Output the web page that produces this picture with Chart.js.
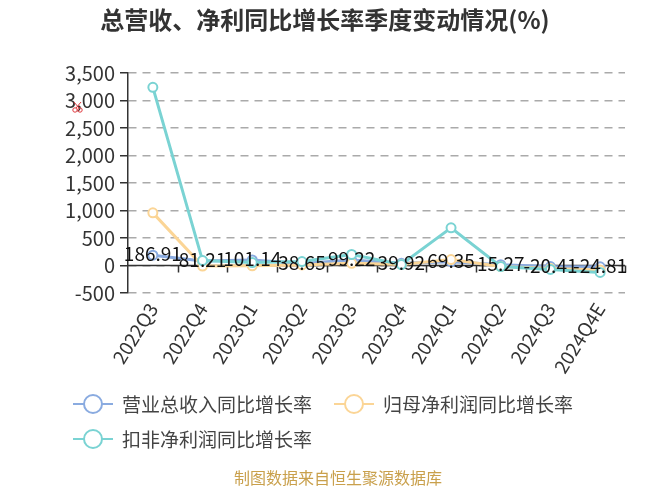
<!DOCTYPE html>
<html>
<head>
<meta charset="utf-8">
<script src="https://cdn.jsdelivr.net/npm/chart.js@4"></script>
<style>
  html, body { margin: 0; padding: 0; background: #fff; }
  #wrap { width: 650px; height: 488px; }
</style>
</head>
<body>
<div id="wrap"><canvas id="growthChart" width="650" height="488"></canvas></div>
<script>
const quarters = ["2022Q3", "2022Q4", "2023Q1", "2023Q2", "2023Q3", "2023Q4", "2024Q1", "2024Q2", "2024Q3", "2024Q4E"];
const revenueGrowth = [186.91, 81.21, 101.14, 38.65, 99.22, 39.92, 69.35, 15.27, -20.41, -24.81];
const netProfitGrowth = [957, -10, -5, 10, 40, 20, 108, -20, -55, -80];
const deductedProfitGrowth = [3240, 90, 54, 72, 200, 18, 686, -18, -72, -126];
const seriesNames = ["营业总收入同比增长率", "归母净利润同比增长率", "扣非净利润同比增长率"];
const seriesColors = ["#8aabe0", "#fbd596", "#7ad3d3"];

const FONT = "'Noto Sans CJK SC', 'Noto Sans', sans-serif";

// zero axis line, x ticks, data labels, legend, title and footer
const decorations = {
  id: "decorations",
  beforeDatasetsDraw(chart) {
    const { ctx, chartArea, scales } = chart;
    const y0 = scales.y.getPixelForValue(0);
    ctx.save();
    ctx.strokeStyle = "#333";
    ctx.lineWidth = 1.5;
    ctx.beginPath();
    ctx.moveTo(chartArea.left, y0);
    ctx.lineTo(chartArea.right, y0);
    const step = (chartArea.right - chartArea.left) / quarters.length;
    for (let i = 1; i <= quarters.length; i++) {
      const x = Math.round(chartArea.left + i * step) + 0.5;
      ctx.moveTo(x, y0);
      ctx.lineTo(x, y0 + 7);
    }
    ctx.stroke();
    ctx.restore();
  },
  afterDatasetsDraw(chart) {
    const { ctx, scales } = chart;
    ctx.save();
    ctx.font = "19px " + FONT;
    ctx.fillStyle = "#111";
    ctx.textAlign = "center";
    ctx.textBaseline = "middle";
    revenueGrowth.forEach((v, i) => {
      const x = scales.x.getPixelForValue(i);
      const y = scales.y.getPixelForValue(v);
      ctx.fillText(v.toFixed(2), x, y - 1);
    });
    ctx.restore();
  },
  afterDraw(chart) {
    const { ctx } = chart;
    ctx.save();
    // title
    ctx.font = "bold 24px " + FONT;
    ctx.fillStyle = "#333";
    ctx.textAlign = "center";
    ctx.textBaseline = "middle";
    ctx.fillText("总营收、净利同比增长率季度变动情况(%)", 325, 20);

    // small red toolbox mark (scissors)
    ctx.strokeStyle = "#e0393e";
    ctx.lineWidth = 1;
    ctx.beginPath();
    ctx.arc(75, 110, 2.2, 0, Math.PI * 2);
    ctx.moveTo(82.2, 110);
    ctx.arc(80, 110, 2.2, 0, Math.PI * 2);
    ctx.moveTo(76, 108);
    ctx.lineTo(81, 102);
    ctx.moveTo(79, 108);
    ctx.lineTo(74, 102);
    ctx.stroke();

    // legend
    const items = [
      { x: 93, y: 404 },
      { x: 354, y: 404 },
      { x: 93, y: 439 }
    ];
    ctx.font = "19px " + FONT;
    ctx.textAlign = "left";
    items.forEach((it, k) => {
      ctx.strokeStyle = seriesColors[k];
      ctx.lineWidth = 2;
      ctx.beginPath();
      ctx.moveTo(it.x - 20, it.y);
      ctx.lineTo(it.x + 20, it.y);
      ctx.stroke();
      ctx.beginPath();
      ctx.arc(it.x, it.y, 9, 0, Math.PI * 2);
      ctx.fillStyle = "#fff";
      ctx.fill();
      ctx.stroke();
      ctx.fillStyle = "#444";
      ctx.fillText(seriesNames[k], it.x + 29, it.y + 1);
    });

    // footer
    ctx.font = "16px " + FONT;
    ctx.fillStyle = "#c9a04c";
    ctx.textAlign = "center";
    ctx.fillText("制图数据来自恒生聚源数据库", 338, 478);
    ctx.restore();
  }
};

function lineSet(label, data, color, order) {
  return {
    label: label,
    data: data,
    borderColor: color,
    backgroundColor: "#fff",
    borderWidth: 3,
    pointRadius: 4.5,
    pointBorderWidth: 2,
    pointBackgroundColor: "#fff",
    pointBorderColor: color,
    tension: 0,
    order: order
  };
}

const ctx = document.getElementById("growthChart").getContext("2d");
new Chart(ctx, {
  type: "line",
  data: {
    labels: quarters,
    datasets: [
      lineSet(seriesNames[0], revenueGrowth, seriesColors[0], 3),
      lineSet(seriesNames[1], netProfitGrowth, seriesColors[1], 2),
      lineSet(seriesNames[2], deductedProfitGrowth, seriesColors[2], 1)
    ]
  },
  options: {
    responsive: false,
    animation: false,
    layout: { padding: { top: 73, right: 25, bottom: 0, left: 0 } },
    plugins: {
      legend: { display: false },
      title: { display: false },
      tooltip: { enabled: false }
    },
    scales: {
      x: {
        offset: true,
        grid: { display: false, drawTicks: false },
        border: { display: false },
        ticks: {
          autoSkip: false,
          maxRotation: 58,
          minRotation: 58,
          padding: 6,
          color: "#333",
          font: { family: FONT, size: 19 }
        },
        afterFit(scale) { scale.height = 195; }
      },
      y: {
        min: -500,
        max: 3500,
        ticks: {
          stepSize: 500,
          padding: 5,
          color: "#333",
          font: { family: FONT, size: 20 },
          callback: v => v.toLocaleString("en-US")
        },
        grid: {
          color: "#aaa",
          lineWidth: 1.5,
          tickLength: 8,
          tickColor: "#333",
          tickBorderDash: [],
          tickWidth: 1.5
        },
        border: { display: true, color: "#333", width: 1.5, dash: [8, 6] },
        afterFit(scale) { scale.width = 128; }
      }
    }
  },
  plugins: [decorations]
});
</script>
</body>
</html>
